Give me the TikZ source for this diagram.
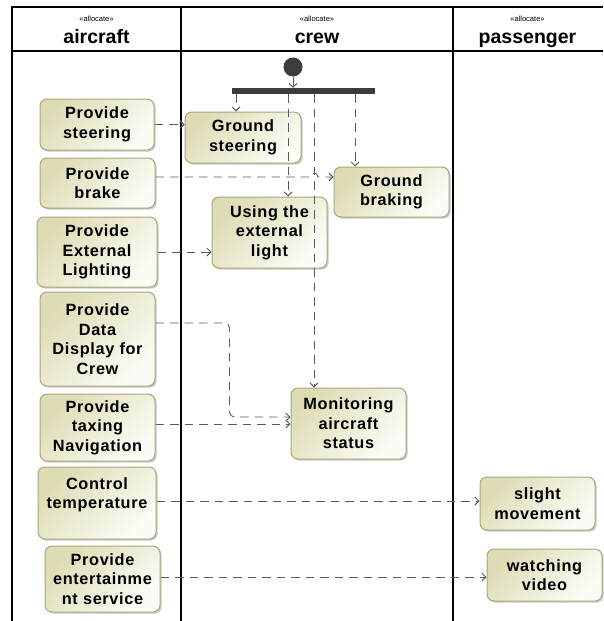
\documentclass[tikz,border=0pt]{standalone}
\usepackage{fontspec}
\setmainfont{Liberation Sans}
\newfontfamily\actfont{Liberation Sans}[LetterSpace=4]
\usetikzlibrary{arrows.meta,shadows,calc}

\definecolor{actborder}{HTML}{A8A67A}
\definecolor{acttop}{HTML}{DEDCB4}
\definecolor{actbottom}{HTML}{FCFCF7}
\definecolor{flowgray}{HTML}{5A5A5A}
\definecolor{nodedark}{HTML}{3C3C3C}

\tikzset{
  act/.style={draw=actborder, line width=1pt, rounded corners=7pt,
    top color=acttop, bottom color=actbottom, shading angle=45,
    drop shadow={shadow xshift=1.6pt, shadow yshift=-1.6pt, opacity=0.35, fill=black!60},
    align=center, inner sep=2pt, text=black,
    font=\actfont\bfseries\fontsize{16.3}{19.5}\selectfont},
  flow/.style={draw=flowgray, line width=0.9pt, dash pattern=on 8.5pt off 6pt,
    -{Straight Barb[length=4pt,width=8pt]}},
  startflow/.style={draw=flowgray, line width=0.9pt,
    -{Straight Barb[length=4pt,width=8pt]}},
  lane/.style={line width=1.6pt, draw=black},
  stereo/.style={anchor=base, font=\fontsize{7.5}{9}\selectfont},
  lanetitle/.style={anchor=base, font=\bfseries\fontsize{19.5}{22}\selectfont},
}

\begin{document}
\begin{tikzpicture}[x=1pt, y=-1pt]
\useasboundingbox (0,0) rectangle (603,621);

% swimlane frame
\draw[lane] (12,621) -- (12,7) -- (603,7);
\draw[lane] (12,51) -- (603,51);
\draw[lane] (181,7) -- (181,621);
\draw[lane] (453,7) -- (453,621);

% lane headers
\node[stereo] (stA) at (96.5,21) {«allocate»};
\node[lanetitle] (hA) at (96.5,43) {aircraft};
\node[stereo] (stC) at (317,21) {«allocate»};
\node[lanetitle] (hC) at (317,43) {crew};
\node[stereo] (stP) at (527.5,21) {«allocate»};
\node[lanetitle] (hP) at (527.5,43) {passenger};

% aircraft lane
\node[act, minimum width=114pt, minimum height=51pt] (ps) at (97,124.5) {Provide\\steering};
\node[act, minimum width=115pt, minimum height=50pt] (pb) at (97.5,183) {Provide\\brake};
\node[act, minimum width=120pt, minimum height=70pt] (pel) at (97,252) {Provide\\External\\Lighting};
\node[act, minimum width=115pt, minimum height=94pt] (pdd) at (97.5,339) {Provide\\Data\\Display for\\Crew};
\node[act, minimum width=115pt, minimum height=67pt] (ptn) at (97.5,427.5) {Provide\\taxing\\Navigation};
\node[act, minimum width=118pt, minimum height=72pt] (ct) at (97,503) {Control\\temperature\\~};
\node[act, minimum width=115pt, minimum height=66pt] (pes) at (102.5,579) {Provide\\entertainme\\nt service};

% crew lane
\node[circle, fill=nodedark, minimum size=19pt, inner sep=0pt] (init) at (293,67) {};
\node[fill=nodedark, minimum width=143pt, minimum height=6pt, inner sep=0pt] (fork) at (303.5,91) {};
\node[act, minimum width=116pt, minimum height=51pt] (gs) at (243,137.5) {Ground\\steering};
\node[act, minimum width=115pt, minimum height=50pt] (gb) at (391.5,192) {Ground\\braking};
\node[act, minimum width=115pt, minimum height=71pt] (uel) at (269.5,232.5) {Using the\\external\\light};
\node[act, minimum width=115pt, minimum height=71pt] (mas) at (348.5,423.5) {Monitoring\\aircraft\\status};

% passenger lane
\node[act, minimum width=115pt, minimum height=53pt] (sm) at (537.5,503.5) {slight\\movement};
\node[act, minimum width=115pt, minimum height=52pt] (wv) at (544.5,575) {watching\\video};

% control flow from the fork
\draw[startflow] (init.south) -- ([xshift=-10.5pt]fork.north);
\draw[flow] ([xshift=-67.5pt]fork.south) -- ([xshift=-7pt]gs.north);
\draw[flow] ([xshift=-15.5pt]fork.south) -- ([xshift=18.5pt]uel.north);
\draw[flow] ([xshift=10.5pt]fork.south) coordinate (tapM) -- (tapM |- mas.north);
\draw[flow] ([xshift=51.5pt]fork.south) -- ([xshift=-36.5pt]gb.north);

% allocations
\draw[flow] (ps.east) -- (ps.east -| gs.west);
\draw[flow] ([yshift=6pt]pb.east) coordinate (pbOut)
  -- ($(pbOut -| tapM)+(-4,0)$) arc[start angle=180, end angle=0, radius=4pt]
  -- (pbOut -| gb.west);
\draw[flow] (pel.east) -- (pel.east -| uel.west);
\draw[flow, rounded corners=5pt] ([yshift=16pt]pdd.east) -- ++(74,0) |- ([yshift=6.5pt]mas.west);
\draw[flow] ([yshift=3.5pt]ptn.east) -- ([yshift=3.5pt]ptn.east -| mas.west);
\draw[flow] ([yshift=2pt]ct.east) -- ([yshift=2pt]ct.east -| sm.west);
\draw[flow] ([yshift=2pt]pes.east) -- ([yshift=2pt]pes.east -| wv.west);
\end{tikzpicture}
\end{document}
